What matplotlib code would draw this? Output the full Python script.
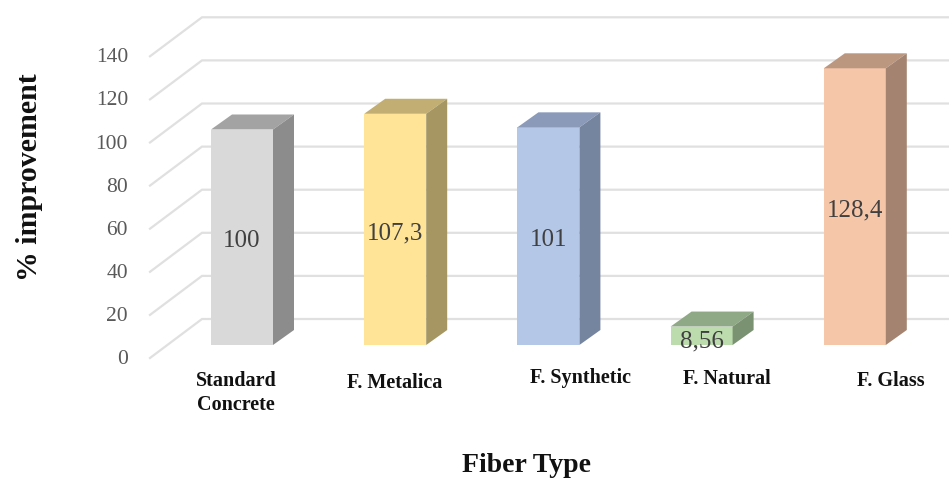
import numpy as np
import matplotlib
matplotlib.use("Agg")
import matplotlib.pyplot as plt

categories = ["Standard\nConcrete", "F. Metalica", "F. Synthetic", "F. Natural", "F. Glass"]
values = [100, 107.3, 101, 8.56, 128.4]
value_labels = ["100", "107,3", "101", "8,56", "128,4"]
y_ticks = [0, 20, 40, 60, 80, 100, 120, 140]

front_colors = ["#d9d9d9", "#ffe396", "#b4c7e7", "#bcdcae", "#f6c6a8"]
top_colors = ["#a3a3a3", "#c2ad72", "#8a9ab8", "#8fa885", "#bc9780"]
side_colors = ["#8c8c8c", "#a59662", "#76859f", "#7b9272", "#a48470"]

W, H = 949, 480
PX_Y = 2.155   # pixels per unit of value
PX_X = 153.2   # pixels per category
BASE_PX = 345  # pixel row of the bars' front bottom
X0_PX = 242    # pixel column of first bar's centre

plt.rcParams["font.family"] = "Liberation Serif"

fig = plt.figure(figsize=(W / 100, H / 100), dpi=100)
ax = fig.add_axes([0, 0, 1, 1])
ax.set_xlim(-X0_PX / PX_X, (W - X0_PX) / PX_X)
ax.set_ylim((BASE_PX - H) / PX_Y, BASE_PX / PX_Y)
ax.axis("off")

# bar size and depth in data units
half_w = 31 / PX_X
dep_x = 21 / PX_X
dep_y = 15 / PX_Y

# walls: back line, then diagonal towards the tick labels
wall_x0 = (202 - X0_PX) / PX_X
wall_x1 = (150 - X0_PX) / PX_X
wall_y = (345 - 319) / PX_Y
diag_y = (358 - 319) / PX_Y
grid_c = "#e0e0e0"
for t in y_ticks:
    ax.plot([wall_x1, wall_x0, ax.get_xlim()[1]],
            [t + wall_y - diag_y, t + wall_y, t + wall_y],
            color=grid_c, lw=1.6, solid_joinstyle="miter", zorder=1)
    ax.text((128 - X0_PX) / PX_X, t + wall_y - diag_y - 0.7, str(t), ha="right", va="center",
            fontsize=15.5, color="#595959")

# the bars
for i, v in enumerate(values):
    l, r = i - half_w, i + half_w
    ax.fill([l, r, r, l], [0, 0, v, v], color=front_colors[i], lw=0, zorder=3)
    ax.fill([l, r, r + dep_x, l + dep_x], [v, v, v + dep_y, v + dep_y],
            color=top_colors[i], lw=0, zorder=3)
    ax.fill([r, r + dep_x, r + dep_x, r], [0, dep_y, v + dep_y, v],
            color=side_colors[i], lw=0, zorder=3)
    ax.text(i, v / 2 - (1.8 if v > 20 else 2.5), value_labels[i], ha="center", va="center",
            fontsize=18, color="#404040", zorder=4)

# category labels, positions follow the picture
label_x = [236, 395, 580, 727, 891]
label_y = [393, 383, 378, 379, 381]
for name, lx, ly in zip(categories, label_x, label_y):
    ax.text((lx - X0_PX) / PX_X, (BASE_PX - ly) / PX_Y, name, ha="center", va="center",
            fontsize=14.5, fontweight="bold", color="#111111", linespacing=1.3)

ax.text((527 - X0_PX) / PX_X, (BASE_PX - 466) / PX_Y, "Fiber Type", ha="center", va="center",
        fontsize=20, fontweight="bold", color="#111111")
ax.text((30 - X0_PX) / PX_X, (BASE_PX - 177) / PX_Y, "% improvement", ha="center", va="center",
        rotation=90, fontsize=21.5, fontweight="bold", color="#111111")

fig.savefig("out.png", dpi=100)
